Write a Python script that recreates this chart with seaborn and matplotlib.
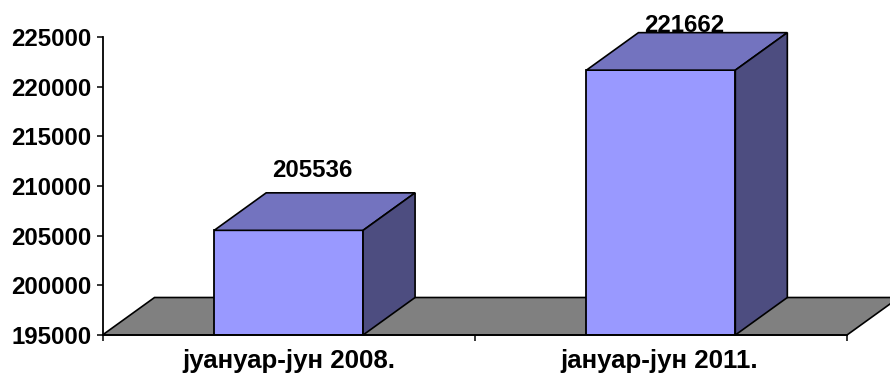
import matplotlib
matplotlib.use('Agg')
import matplotlib.pyplot as plt
import pandas as pd
import seaborn as sns
from matplotlib.patches import Polygon

# Data
periods = ['јуануар-јун 2008.', 'јануар-јун 2011.']
values = [205536, 221662]
y_ticks = [195000, 200000, 205000, 210000, 215000, 220000, 225000]

df = pd.DataFrame({'period': periods, 'value': values})

sns.set_style('white')
plt.rcParams['font.family'] = ['Liberation Sans', 'DejaVu Sans']

W, H = 890, 374
fig = plt.figure(figsize=(W / 100, H / 100), dpi=100)
ax = fig.add_axes([102.5 / W, 1 - 335 / H, 744.5 / W, 298 / H])

sns.barplot(data=df, x='period', y='value', color='#9999FF', width=0.4, saturation=1,
            edgecolor='black', linewidth=1.3, ax=ax, zorder=3)
ax.set_xlim(-0.5, 1.5)
ax.set_ylim(y_ticks[0], y_ticks[-1])

# one pixel in data units, 3d offset comes from it
px_x = 2 / 744.5
px_y = (y_ticks[-1] - y_ticks[0]) / 298
dx = 52 * px_x
dy = 37.5 * px_y
base = y_ticks[0]

# grey floor
floor = [(-0.5, base), (1.5, base), (1.5 + dx, base + dy), (-0.5 + dx, base + dy)]
ax.add_patch(Polygon(floor, closed=True, fc='#808080', ec='black', lw=1.2, clip_on=False, zorder=1))

label_ceiling = base + 303 * px_y  # labels get pushed down at the top of the chart
for bar in ax.patches[:2]:
    x0 = bar.get_x()
    x1 = x0 + bar.get_width()
    top = bar.get_height()
    # bars start at the axis floor, not at 0
    bar.set_y(base)
    bar.set_height(top - base)
    ax.add_patch(Polygon([(x0, top), (x1, top), (x1 + dx, top + dy), (x0 + dx, top + dy)], closed=True,
                         fc='#7373BF', ec='black', lw=1.2, clip_on=False, zorder=4))
    ax.add_patch(Polygon([(x1, base), (x1 + dx, base + dy), (x1 + dx, top + dy), (x1, top)], closed=True,
                         fc='#4D4D80', ec='black', lw=1.2, clip_on=False, zorder=4))
    ax.text((x0 + x1 + dx) / 2 - 2.5 * px_x, min(top + dy + 16 * px_y, label_ceiling), f'{int(top)}',
            ha='center', va='baseline', fontsize=17.3, fontweight='bold', color='black', zorder=5,
            clip_on=False)

ax.set_yticks(y_ticks)
ax.set_xticks([-0.5, 0.5, 1.5], labels=['', '', ''])
ax.set_xlabel('')
ax.set_ylabel('')
for s in ['top', 'right']:
    ax.spines[s].set_visible(False)
for s in ['left', 'bottom']:
    ax.spines[s].set_color('black')
    ax.spines[s].set_linewidth(1.3)
    ax.spines[s].set_zorder(6)
ax.tick_params(axis='y', direction='out', length=4.3, width=1.1, color='black', left=True, pad=3.8,
               labelsize=17.3, labelcolor='black')
ax.tick_params(axis='x', direction='out', length=4.3, width=1.1, color='black', bottom=True)
for lab in ax.get_yticklabels():
    lab.set_fontweight('bold')

# category labels sit a bit wider than 17pt in the original
for i, p in enumerate(periods):
    ax.text(i - 1.5 * i * px_x, base - 33 * px_y, p, ha='center', va='baseline', fontsize=18.6,
            fontweight='bold', color='black', clip_on=False)

fig.savefig('out.png', dpi=100)
